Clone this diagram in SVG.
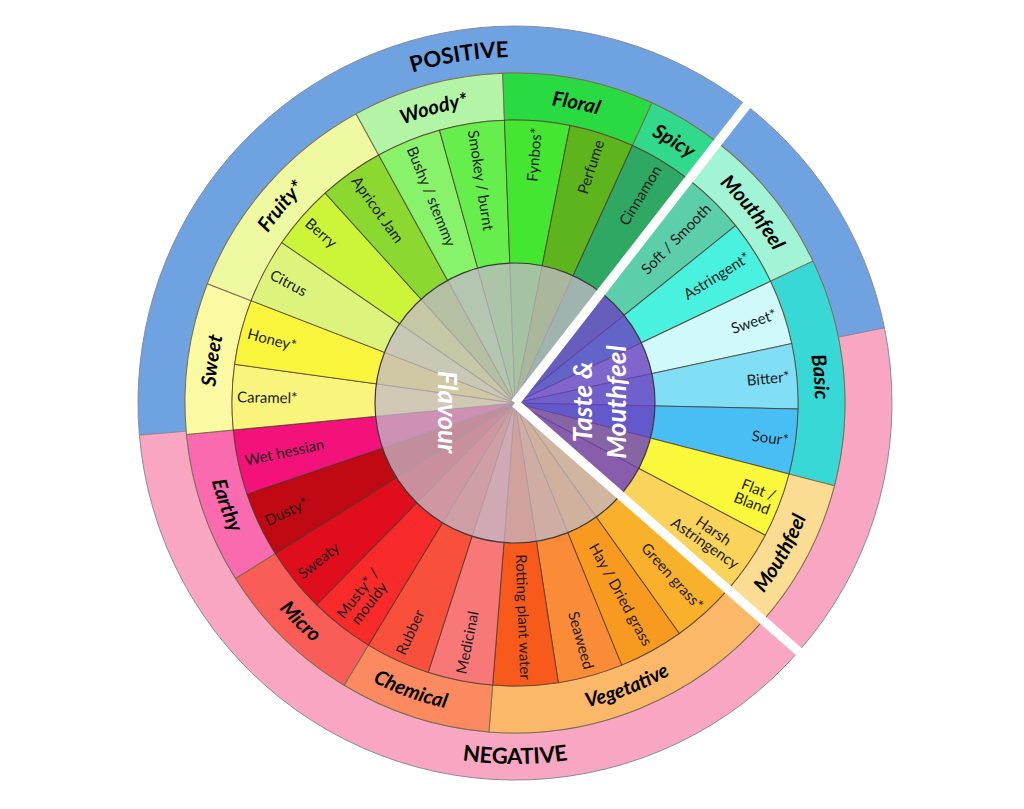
<svg xmlns="http://www.w3.org/2000/svg" width="1024" height="809" viewBox="0 0 1024 809">
<style>
.l{font-family:Lato,"Liberation Sans",sans-serif;font-size:15px;fill:#1c1c1c}
.e{text-anchor:end}
.cat{font-family:Lato,"Liberation Sans",sans-serif;font-size:20px;font-weight:bold;font-style:italic;fill:#000;text-anchor:middle}
.big{font-family:Lato,"Liberation Sans",sans-serif;font-size:22px;font-weight:bold;fill:#000;text-anchor:middle}
.hub{font-family:Lato,"Liberation Sans",sans-serif;font-size:26px;font-weight:bold;font-style:italic;fill:#fff;text-anchor:middle}
.ws{stroke:#4a3428;stroke-opacity:0.75;stroke-width:1}
.cs{stroke:#7d6d4d;stroke-width:1}
.os{stroke:#8a8a9a;stroke-width:1}
</style>
<defs>
<path id="wg" d="M0,0 L283,0 A283,283 0 0 1 275.37,65.27 Z"/>
<path id="c1" d="M330,0 A330,330 0 0 1 321.10,76.10 L275.37,65.27 A283,283 0 0 0 283,0 Z"/>
<path id="c2" d="M330,0 A330,330 0 0 1 294.90,148.07 L252.90,126.99 A283,283 0 0 0 283,0 Z"/>
<path id="c3" d="M330,0 A330,330 0 0 1 252.79,212.12 L216.79,181.91 A283,283 0 0 0 283,0 Z"/>
<path id="c4" d="M330,0 A330,330 0 0 1 197.06,264.70 L169.00,227.00 A283,283 0 0 0 283,0 Z"/>
<path id="ct" d="M215,403 A300,300 0 1 1 815,403 A300,300 0 1 1 215,403"/>
<path id="cb" d="M202,403 A313,313 0 1 0 828,403 A313,313 0 1 0 202,403"/>
<path id="ot" d="M169,403 A346,346 0 1 1 861,403 A346,346 0 1 1 169,403"/>
<path id="ob" d="M154,403 A361,361 0 1 0 876,403 A361,361 0 1 0 154,403"/>
</defs>

<g id="positive">
<path class="os" d="M139.38,435.20 A377,377 0 0 1 884.43,327.84 L838.37,337.21 A330,330 0 0 0 186.20,431.19 Z" fill="#6EA2E0"/>
<text class="big"><textPath href="#ot" startOffset="487.94">POSITIVE</textPath></text>
</g>
<g id="negative">
<path class="os" d="M884.43,327.84 A377,377 0 1 1 139.38,435.20 L186.20,431.19 A330,330 0 1 0 838.37,337.21 Z" fill="#F8A6C2"/>
<text class="big"><textPath href="#ob" startOffset="567.06">NEGATIVE</textPath></text>
</g>

<g id="categories">
<g id="cat-vegetative"><use href="#c4" class="cs" transform="translate(515,403) rotate(41.2)" fill="#FBB868"/><text class="cat"><textPath href="#cb" startOffset="609.11">Vegetative</textPath></text></g>
<g id="cat-chemical"><use href="#c2" class="cs" transform="translate(515,403) rotate(94.533)" fill="#FB8A60"/><text class="cat"><textPath href="#cb" startOffset="382.40">Chemical</textPath></text></g>
<g id="cat-micro"><use href="#c2" class="cs" transform="translate(515,403) rotate(121.2)" fill="#FA5C58"/><text class="cat"><textPath href="#cb" startOffset="248.56">Micro</textPath></text></g>
<g id="cat-earthy"><use href="#c2" class="cs" transform="translate(515,403) rotate(147.867)" fill="#F96AAE"/><text class="cat"><textPath href="#cb" startOffset="106.53">Earthy</textPath></text></g>
<g id="cat-sweet"><use href="#c2" class="cs" transform="translate(515,403) rotate(174.533)" fill="#FBF9A2"/><text class="cat"><textPath href="#ct" startOffset="41.89">Sweet</textPath></text></g>
<g id="cat-fruity"><use href="#c3" class="cs" transform="translate(515,403) rotate(201.2)" fill="#EDF8A0"/><text class="cat"><textPath href="#ct" startOffset="209.44">Fruity*</textPath></text></g>
<g id="cat-woody"><use href="#c2" class="cs" transform="translate(515,403) rotate(241.2)" fill="#B4F4A6"/><text class="cat"><textPath href="#ct" startOffset="390.08">Woody*</textPath></text></g>
<g id="cat-floral"><use href="#c2" class="cs" transform="translate(515,403) rotate(267.867)" fill="#2ADA42"/><text class="cat"><textPath href="#ct" startOffset="531.45">Floral</textPath></text></g>
<g id="cat-spicy"><use href="#c1" class="cs" transform="translate(515,403) rotate(294.533)" fill="#30D98C"/><text class="cat"><textPath href="#ct" startOffset="634.60">Spicy</textPath></text></g>
<g id="cat-mouthfeel-upper"><use href="#c2" class="cs" transform="translate(515,403) rotate(307.867)" fill="#A2F4D6"/><text class="cat"><textPath href="#ct" startOffset="739.32">Mouthfeel</textPath></text></g>
<g id="cat-basic"><use href="#c3" class="cs" transform="translate(515,403) rotate(334.533)" fill="#38D8D6"/><text class="cat"><textPath href="#ct" startOffset="916.30">Basic</textPath></text></g>
<g id="cat-mouthfeel-lower"><use href="#c2" class="cs" transform="translate(515,403) rotate(14.533)" fill="#FADD92"/><text class="cat"><textPath href="#cb" startOffset="822.16">Mouthfeel</textPath></text></g>
</g>

<g id="wedges">
<g id="w-green-grass" transform="translate(515,403)"><use href="#wg" class="ws" transform="rotate(41.2)" fill="#F9B02A"/><text class="l e" transform="rotate(47.867)" x="276" y="5">Green grass*</text></g>
<g id="w-hay" transform="translate(515,403)"><use href="#wg" class="ws" transform="rotate(54.533)" fill="#F99A20"/><text class="l e" transform="rotate(61.2)" x="276" y="5">Hay / Dried grass</text></g>
<g id="w-seaweed" transform="translate(515,403)"><use href="#wg" class="ws" transform="rotate(67.867)" fill="#FA8C38"/><text class="l e" transform="rotate(74.533)" x="276" y="5">Seaweed</text></g>
<g id="w-rotting" transform="translate(515,403)"><use href="#wg" class="ws" transform="rotate(81.2)" fill="#F85A1C"/><text class="l e" transform="rotate(87.867)" x="277" y="5">Rotting plant water</text></g>
<g id="w-medicinal" transform="translate(515,403)"><use href="#wg" class="ws" transform="rotate(94.533)" fill="#F87878"/><text class="l" transform="rotate(281.2)" x="-276" y="5">Medicinal</text></g>
<g id="w-rubber" transform="translate(515,403)"><use href="#wg" class="ws" transform="rotate(107.867)" fill="#F9503C"/><text class="l" transform="rotate(294.533)" x="-276" y="5">Rubber</text></g>
<g id="w-musty" transform="translate(515,403)"><use href="#wg" class="ws" transform="rotate(121.2)" fill="#F82A2A"/><text class="l" transform="rotate(307.867)"><tspan x="-276" y="-2">Musty* /</tspan><tspan x="-272" y="13">mouldy</tspan></text></g>
<g id="w-sweaty" transform="translate(515,403)"><use href="#wg" class="ws" transform="rotate(134.533)" fill="#E00E1C"/><text class="l" transform="rotate(321.2)" x="-276" y="5">Sweaty</text></g>
<g id="w-dusty" transform="translate(515,403)"><use href="#wg" class="ws" transform="rotate(147.867)" fill="#C10914"/><text class="l" transform="rotate(334.533)" x="-276" y="5">Dusty*</text></g>
<g id="w-wet-hessian" transform="translate(515,403)"><use href="#wg" class="ws" transform="rotate(161.2)" fill="#F2127A"/><text class="l" transform="rotate(347.867)" x="-276" y="5">Wet hessian</text></g>
<g id="w-caramel" transform="translate(515,403)"><use href="#wg" class="ws" transform="rotate(174.533)" fill="#F8F47C"/><text class="l" transform="rotate(361.2)" x="-278" y="5">Caramel*</text></g>
<g id="w-honey" transform="translate(515,403)"><use href="#wg" class="ws" transform="rotate(187.867)" fill="#F9F43C"/><text class="l" transform="rotate(374.533)" x="-276" y="5">Honey*</text></g>
<g id="w-citrus" transform="translate(515,403)"><use href="#wg" class="ws" transform="rotate(201.2)" fill="#DCF47C"/><text class="l" transform="rotate(387.867)" x="-276" y="5">Citrus</text></g>
<g id="w-berry" transform="translate(515,403)"><use href="#wg" class="ws" transform="rotate(214.533)" fill="#CCF53A"/><text class="l" transform="rotate(401.2)" x="-276" y="5">Berry</text></g>
<g id="w-apricot" transform="translate(515,403)"><use href="#wg" class="ws" transform="rotate(227.867)" fill="#8AD830"/><text class="l" transform="rotate(414.533)" x="-276" y="5">Apricot Jam</text></g>
<g id="w-bushy" transform="translate(515,403)"><use href="#wg" class="ws" transform="rotate(241.2)" fill="#88F26A"/><text class="l" transform="rotate(427.867)" x="-276" y="5">Bushy / stemmy</text></g>
<g id="w-smokey" transform="translate(515,403)"><use href="#wg" class="ws" transform="rotate(254.533)" fill="#66EE4C"/><text class="l" transform="rotate(441.2)" x="-276" y="5">Smokey / burnt</text></g>
<g id="w-fynbos" transform="translate(515,403)"><use href="#wg" class="ws" transform="rotate(267.867)" fill="#44E632"/><text class="l e" transform="rotate(274.533)" x="276" y="5">Fynbos*</text></g>
<g id="w-perfume" transform="translate(515,403)"><use href="#wg" class="ws" transform="rotate(281.2)" fill="#5DB41C"/><text class="l e" transform="rotate(287.867)" x="276" y="5">Perfume</text></g>
<g id="w-cinnamon" transform="translate(515,403)"><use href="#wg" class="ws" transform="rotate(294.533)" fill="#2EA862"/><text class="l e" transform="rotate(301.2)" x="276" y="5">Cinnamon</text></g>
<g id="w-soft" transform="translate(515,403)"><use href="#wg" class="ws" transform="rotate(307.867)" fill="#5CCFAA"/><text class="l e" transform="rotate(314.533)" x="276" y="5">Soft / Smooth</text></g>
<g id="w-astringent" transform="translate(515,403)"><use href="#wg" class="ws" transform="rotate(321.2)" fill="#48F2DE"/><text class="l e" transform="rotate(327.867)" x="276" y="5">Astringent*</text></g>
<g id="w-sweet" transform="translate(515,403)"><use href="#wg" class="ws" transform="rotate(334.533)" fill="#CFF9FA"/><text class="l e" transform="rotate(341.2)" x="276" y="5">Sweet*</text></g>
<g id="w-bitter" transform="translate(515,403)"><use href="#wg" class="ws" transform="rotate(347.867)" fill="#80DEF5"/><text class="l e" transform="rotate(354.533)" x="276" y="5">Bitter*</text></g>
<g id="w-sour" transform="translate(515,403)"><use href="#wg" class="ws" transform="rotate(361.2)" fill="#48BEF5"/><text class="l e" transform="rotate(367.867)" x="276" y="5">Sour*</text></g>
<g id="w-flat" transform="translate(515,403)"><use href="#wg" class="ws" transform="rotate(374.533)" fill="#FAF83A"/><text class="l e" transform="rotate(381.2)"><tspan x="276" y="-2">Flat /</tspan><tspan x="276" y="13">Bland</tspan></text></g>
<g id="w-harsh" transform="translate(515,403)"><use href="#wg" class="ws" transform="rotate(387.867)" fill="#F9D35A"/><text class="l" text-anchor="middle" transform="rotate(394.533)"><tspan x="236" y="-2">Harsh</tspan><tspan x="236" y="13">Astringency</tspan></text></g>
</g>

<g id="hub">
<path d="M515,403 L620.31,495.22 A140,140 0 1 1 600.96,292.50 Z" fill="#C2B8C6" fill-opacity="0.76"/>
<path d="M515,403 L600.96,292.50 A140,140 0 0 1 620.31,495.22 Z" fill="#6A40C0" fill-opacity="0.8"/>
<circle cx="515" cy="403" r="140" fill="none" stroke="#3a3a3a" stroke-width="1.2"/>
<text class="hub" transform="translate(447,412) rotate(90)" x="0" y="9">Flavour</text>
<text class="hub" transform="translate(600,402) rotate(-90)"><tspan x="0" y="-8">Taste &amp;</tspan><tspan x="0" y="26">Mouthfeel</tspan></text>
</g>

<g id="connectors" stroke="#fff" stroke-width="9" stroke-linecap="butt">
<line x1="515" y1="403" x2="804.60" y2="656.60"/>
<line x1="515" y1="403" x2="751.39" y2="99.12"/>
</g>
</svg>
